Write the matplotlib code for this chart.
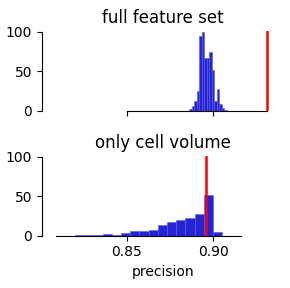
import matplotlib
matplotlib.use("Agg")
import matplotlib.pyplot as plt
import numpy as np

# ---- data ----
full_edges = [0.8862, 0.8877, 0.8891, 0.8906, 0.8920, 0.8935, 0.8949, 0.8964,
              0.8978, 0.8993, 0.9007, 0.9022, 0.9036, 0.9051, 0.9065, 0.9080]
full_counts = [2.5, 6, 12, 25, 95, 100, 67, 67, 74, 52, 12, 27, 8, 3, 1]
full_ref = 0.9313

vol_edges = [0.8199, 0.8252, 0.8306, 0.8359, 0.8412, 0.8466, 0.8519, 0.8572,
             0.8626, 0.8679, 0.8732, 0.8786, 0.8839, 0.8892, 0.8946, 0.8999, 0.9052]
vol_counts = [1, 1, 0.3, 2, 1, 3, 5.5, 5.5, 7.5, 13.5, 17, 20, 22.5, 27.5, 51, 4]
vol_ref = 0.8957

titles = ["full feature set", "only cell volume"]
yticks = [0, 50, 100]
xticks = [0.85, 0.90]
xtick_labels = ["0.85", "0.90"]

W, H = 290, 288
fig = plt.figure(figsize=(W / 100, H / 100), dpi=100)

left = 42 / W
width = (284 - 42) / W
ax_top = fig.add_axes([left, (H - 110.5) / H, width, 79.5 / H])
ax_bot = fig.add_axes([left, (H - 235.5) / H, width, 79.5 / H])

xlim = (0.85 - 85 / 1725, 0.85 + (284 - 127) / 1725)
face = '#2424d4'
edge = '#5c5ce2'

for ax, edges, counts, ref, title, xb in [
    (ax_top, full_edges, full_counts, full_ref, titles[0], (0.85, full_ref)),
    (ax_bot, vol_edges, vol_counts, vol_ref, titles[1], (0.809, 0.916)),
]:
    ax.hist(edges[:-1], bins=edges, weights=counts, color=face,
            edgecolor=edge, linewidth=0.4)
    ax.axvline(ref, color='red', linewidth=1.8)
    ax.set_xlim(*xlim)
    ax.set_ylim(0, 101)
    ax.set_yticks(yticks)
    ax.set_xticks(xticks)
    ax.set_title(title, fontsize=12, pad=6)
    for s in ['top', 'right']:
        ax.spines[s].set_visible(False)
    ax.spines['left'].set_bounds(0, 100)
    ax.spines['bottom'].set_bounds(*xb)
    ax.tick_params(labelsize=10, length=3.5, width=0.8)

ax_top.set_xticklabels([])
ax_bot.set_xticklabels(xtick_labels)
ax_bot.set_xlabel("precision", fontsize=10)

fig.savefig("out.png", dpi=100)
